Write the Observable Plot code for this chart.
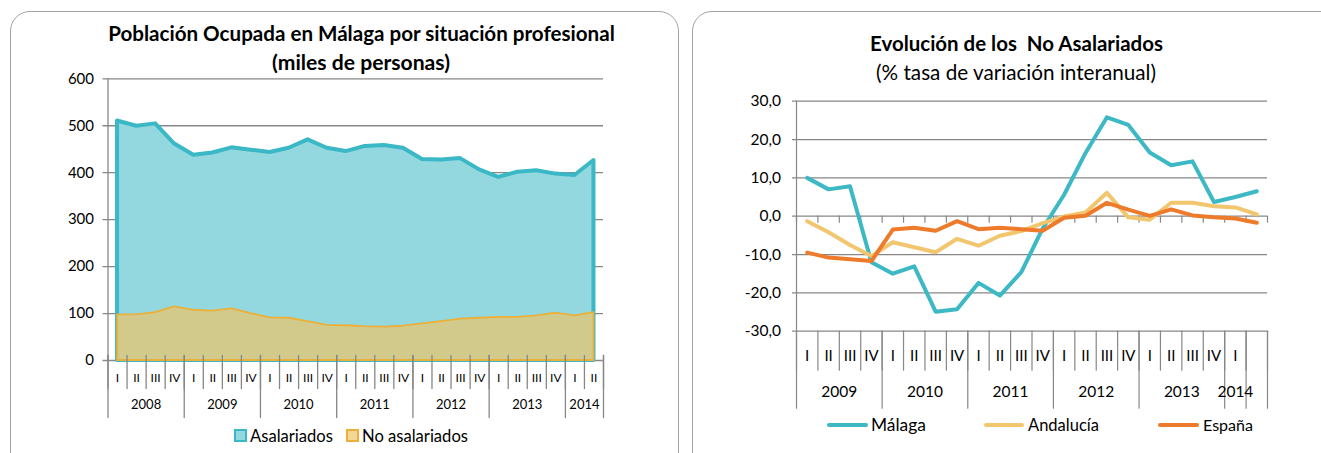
<!DOCTYPE html>
<html><head><meta charset="utf-8">
<script src="https://cdn.jsdelivr.net/npm/d3@7"></script>
<script src="https://cdn.jsdelivr.net/npm/@observablehq/plot@0.6"></script>
<style>
html,body{margin:0;padding:0;background:#fff;}
#root{position:relative;width:1321px;height:453px;overflow:hidden;font-family:Lato,"Open Sans",sans-serif;color:#000;}
.panel{position:absolute;border:1px solid #a3a3a3;border-radius:20px;background:#fff;box-sizing:border-box;}
.abs{position:absolute;white-space:pre;line-height:1;}
.sw{position:absolute;box-sizing:border-box;}
svg{position:absolute;top:0;overflow:visible;}
</style></head><body><div id="root"></div>
<script>
// ---------- DATA: left chart ----------
const quarterLabels1 = ["I","II","III","IV","I","II","III","IV","I","II","III","IV","I","II","III","IV","I","II","III","IV","I","II","III","IV","I","II"];
const years1 = ["2008","2009","2010","2011","2012","2013","2014"];
const yearCounts1 = [4,4,4,4,4,4,2];
const asalariados = [510,499,504,461,437,442,453,448,443,452,470,452,445,456,458,452,428,427,430,406,390,401,404,397,394,426];
const noAsalariados = [97,97,102,114,107,105,110,100,91,90,83,75,74,72,71,73,78,83,88,90,92,92,95,101,95,102];
const yTicks1 = [0,100,200,300,400,500,600];

// ---------- DATA: right chart ----------
const quarterLabels2 = ["I","II","III","IV","I","II","III","IV","I","II","III","IV","I","II","III","IV","I","II","III","IV","I",""];
const years2 = ["2009","2010","2011","2012","2013","2014",""];
const yearCounts2 = [4,4,4,4,4,1,1];
const malaga = [10.0,7.0,7.8,-12.0,-15.0,-13.1,-24.9,-24.3,-17.4,-20.7,-14.6,-3.2,5.6,16.5,25.8,23.8,16.6,13.3,14.3,3.7,5.0,6.5];
const andalucia = [-1.3,-4.2,-7.5,-10.4,-6.8,-8.1,-9.4,-5.9,-7.7,-5.1,-3.9,-1.8,-0.1,1.0,6.1,-0.3,-0.9,3.5,3.5,2.6,2.3,0.5];
const espana = [-9.5,-10.8,-11.2,-11.7,-3.5,-3.0,-3.8,-1.3,-3.4,-3.0,-3.4,-3.8,-0.4,0.1,3.5,1.7,0.1,1.8,0.2,-0.3,-0.6,-1.7];
const yTicks2 = [-30,-20,-10,0,10,20,30];

// ---------- helpers ----------
const root = document.getElementById("root");
const GRID = "#878787";
const tickShape = {draw(ctx, l) { ctx.moveTo(0, 0); ctx.lineTo(0, -l); }};
function spans(counts) {
  const starts = []; let s = 0;
  for (const c of counts) { starts.push(s); s += c; }
  return {starts, ends: starts.map((st, i) => st + counts[i]), total: s};
}
function label(txt, {x, y, w, size, weight = 400, anchor = "middle"}) {
  const s = document.createElement("span");
  s.className = "abs"; s.textContent = txt;
  s.style.fontSize = size + "px"; s.style.fontWeight = weight;
  root.appendChild(s);
  if (w) { const cw = s.getBoundingClientRect().width; s.style.fontSize = (size * w / cw) + "px"; }
  const r = s.getBoundingClientRect();
  const left = anchor === "middle" ? x - r.width / 2 : anchor === "start" ? x : x - r.width;
  s.style.left = left + "px"; s.style.top = (y - r.height / 2) + "px";
}
function box(cls, css) {
  const d = document.createElement("div"); d.className = cls;
  Object.assign(d.style, css); root.appendChild(d); return d;
}

// panels
box("panel", {left: "10px", top: "11px", width: "669px", height: "470px"});
box("panel", {left: "692px", top: "11px", width: "680px", height: "470px"});

// ---------- left chart ----------
{
  const sp = spans(yearCounts1);
  const bounds = d3.range(sp.total + 1);
  const full = [...sp.starts, sp.total];
  const svg = Plot.plot({
    width: 680, height: 453,
    marginLeft: 107.5, marginRight: 77, marginTop: 78.3, marginBottom: 93,
    x: {domain: [0, sp.total], axis: null},
    y: {domain: [0, 600], axis: null},
    style: {fontFamily: "Lato, sans-serif", background: "transparent", color: "#000"},
    marks: [
      Plot.ruleY(yTicks1, {y: d => d, stroke: GRID, strokeWidth: 1.3, insetLeft: -5}),
      Plot.areaY(asalariados, {x: (d, i) => i + 0.5, y: d => d, fill: "#93D8DF", stroke: "#3BB8C5", strokeWidth: 4, strokeLinejoin: "round"}),
      Plot.areaY(noAsalariados, {x: (d, i) => i + 0.5, y: d => d, fill: "#D2CA8B", stroke: "#EBB03A", strokeWidth: 1.8, strokeLinejoin: "round"}),
      Plot.ruleX([0], {x: d => d, stroke: GRID, strokeWidth: 1.3}),
      Plot.vector(bounds, {x: d => d, frameAnchor: "bottom", dy: -5, length: 33, rotate: 180, anchor: "start", shape: tickShape, stroke: GRID, strokeWidth: 1.3}),
      Plot.vector(full, {x: d => d, frameAnchor: "bottom", dy: -5, length: 62, rotate: 180, anchor: "start", shape: tickShape, stroke: GRID, strokeWidth: 1.3}),
      Plot.text(yTicks1, {y: d => d, text: d => String(d), frameAnchor: "left", textAnchor: "end", dx: -14, fontSize: 15, fill: "#000"}),
      Plot.text(quarterLabels1, {x: (d, i) => i + 0.5, text: d => d, frameAnchor: "bottom", dy: 21, fontSize: 12, fill: "#000"}),
      Plot.text(years1, {x: (d, i) => (sp.starts[i] + sp.ends[i]) / 2, text: d => d, frameAnchor: "bottom", dy: 48, fontSize: 13, fill: "#000"})
    ]
  });
  svg.style.left = "0px";
  root.appendChild(svg);
  label("Población Ocupada en Málaga por situación profesional", {x: 361.5, y: 33, w: 507, size: 18, weight: 700});
  label("(miles de personas)", {x: 361, y: 63, w: 178, size: 18, weight: 700});
  box("sw", {left: "234px", top: "429px", width: "13px", height: "13px", background: "#93D8DF", border: "2px solid #3BB8C5"});
  label("Asalariados", {x: 250, y: 436, w: 83, size: 15, anchor: "start"});
  box("sw", {left: "346px", top: "429px", width: "13px", height: "13px", background: "#F6D696", border: "2px solid #EBB03A"});
  label("No asalariados", {x: 362, y: 436, w: 106, size: 15, anchor: "start"});
}

// ---------- right chart ----------
{
  const sp = spans(yearCounts2);
  const bounds = d3.range(sp.total + 1);
  const full = [...sp.starts, sp.total];
  const xi = (d, i) => i + 0.5;
  const svg = Plot.plot({
    width: 629, height: 453,
    marginLeft: 104, marginRight: 54, marginTop: 100.7, marginBottom: 122.3,
    x: {domain: [0, sp.total], axis: null},
    y: {domain: [-30, 30], axis: null},
    style: {fontFamily: "Lato, sans-serif", background: "transparent", color: "#000"},
    marks: [
      Plot.ruleY(yTicks2, {y: d => d, stroke: GRID, strokeWidth: 1.2, insetLeft: -4}),
      Plot.ruleX([0], {x: d => d, stroke: GRID, strokeWidth: 1.2}),
      Plot.vector(bounds, {x: d => d, y: () => 0, length: 6, rotate: 180, anchor: "start", shape: tickShape, stroke: GRID, strokeWidth: 1.2}),
      Plot.vector(bounds, {x: d => d, frameAnchor: "bottom", length: 39, rotate: 180, anchor: "start", shape: tickShape, stroke: GRID, strokeWidth: 1.2}),
      Plot.vector(full, {x: d => d, frameAnchor: "bottom", length: 77, rotate: 180, anchor: "start", shape: tickShape, stroke: GRID, strokeWidth: 1.2}),
      Plot.line(malaga, {x: xi, y: d => d, stroke: "#3DB8C5", strokeWidth: 4, strokeLinejoin: "round", strokeLinecap: "round"}),
      Plot.line(andalucia, {x: xi, y: d => d, stroke: "#F2C66E", strokeWidth: 4, strokeLinejoin: "round", strokeLinecap: "round"}),
      Plot.line(espana, {x: xi, y: d => d, stroke: "#EE7B2B", strokeWidth: 4, strokeLinejoin: "round", strokeLinecap: "round"}),
      Plot.text(yTicks2, {y: d => d, text: d => d.toFixed(1).replace(".", ","), frameAnchor: "left", textAnchor: "end", dx: -15.5, fontSize: 15.5, fill: "#000"}),
      Plot.text(quarterLabels2, {x: xi, text: d => d, frameAnchor: "bottom", dy: 30, fontSize: 15, fill: "#000"}),
      Plot.text(years2, {x: (d, i) => (sp.starts[i] + sp.ends[i]) / 2, text: d => d, frameAnchor: "bottom", dy: 66, fontSize: 15.5, fill: "#000"})
    ]
  });
  svg.style.left = "692px";
  root.appendChild(svg);
  label("Evolución de los  No Asalariados", {x: 1016.5, y: 43, w: 293, size: 18, weight: 700});
  label("(% tasa de variación interanual)", {x: 1016, y: 72, w: 280, size: 18});
  const legend = [
    {name: "Málaga", color: "#3DB8C5", x0: 827, x1: 868, tx: 871, w: 55},
    {name: "Andalucía", color: "#F2C66E", x0: 984, x1: 1024, tx: 1028, w: 71},
    {name: "España", color: "#EE7B2B", x0: 1158, x1: 1199, tx: 1203, w: 50}
  ];
  for (const l of legend) {
    box("sw", {left: l.x0 + "px", top: "423px", width: (l.x1 - l.x0) + "px", height: "4px", background: l.color, borderRadius: "2px"});
    label(l.name, {x: l.tx, y: 425, w: l.w, size: 16, anchor: "start"});
  }
}
</script></body></html>
